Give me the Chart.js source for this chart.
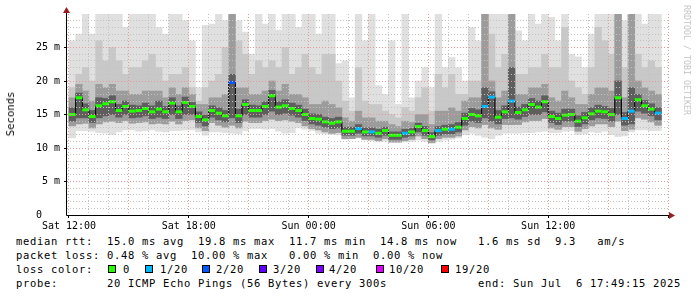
<!DOCTYPE html>
<html>
<head>
<meta charset="utf-8">
<script src="https://cdn.jsdelivr.net/npm/chart.js@4.4.1/dist/chart.umd.min.js"></script>
<style>
  html, body { margin: 0; padding: 0; background: #fff; }
  #graph { position: relative; width: 697px; height: 297px; overflow: hidden; background: #fff; }
  #graph canvas { position: absolute; left: 0; top: 0; }
  .mono { position: absolute; font-family: "DejaVu Sans Mono", monospace; color: #000; white-space: pre; }
  .legend { font-size: 10.5px; letter-spacing: 0.68px; line-height: 14px; }
  .swatch { position: absolute; width: 8px; height: 8px; box-sizing: border-box; border: 1px solid #000; }
  #yTitle { font-size: 10.6px; left: 10px; top: 114px; transform: translate(-50%, -50%) rotate(-90deg); }
  #watermark { font-size: 8.3px; color: #c4c4c4; left: 687px; top: 60px; transform: translate(-50%, -50%) rotate(90deg); }
</style>
</head>
<body>
<div id="graph">
  <canvas id="smoke" width="697" height="232"></canvas>
  <div class="mono" id="yTitle">Seconds</div>
  <div class="mono" id="watermark">RRDTOOL / TOBI OETIKER</div>
  <div class="mono legend" style="left:16px;top:234px">median rtt:  15.0 ms avg  19.8 ms max  11.7 ms min  14.8 ms now   1.6 ms sd  9.3   am/s</div>
  <div class="mono legend" style="left:16px;top:248px">packet loss: 0.48 % avg  10.00 % max   0.00 % min  0.00 % now</div>
  <div class="mono legend" style="left:16px;top:262px">loss color:</div>
  <div class="mono legend" style="left:16px;top:276px">probe:       20 ICMP Echo Pings (56 Bytes) every 300s</div>
  <div class="mono legend" style="left:478px;top:276px">end: Sun Jul  6 17:49:15 2025</div>
</div>
<script>
// one smoke column every 20 minutes, first one starts Sat 12:00
const binMinutes = 20;

// median rtt per column (ms)
const median = [
  15.0, 17.5, 15.7, 14.7, 16.3, 16.6, 16.9, 15.6, 16.2, 15.5, 15.6, 15.9, 15.4, 15.8, 15.4,
  16.7, 15.4, 16.8, 16.2, 14.7, 14.2, 15.6, 15.2, 14.8, 19.8, 14.8, 16.5, 15.6, 15.6, 16.2,
  17.8, 16.1, 16.3, 15.9, 15.6, 15.0, 14.4, 14.3, 13.9, 13.7, 13.9, 12.5, 12.5, 12.9, 12.4,
  12.4, 12.2, 12.6, 11.9, 11.9, 12.2, 12.4, 13.2, 12.6, 11.7, 12.6, 12.8, 12.8, 13.1, 14.4,
  15.0, 14.8, 16.2, 17.6, 14.6, 15.4, 17.0, 15.3, 15.7, 16.5, 16.1, 16.9, 14.7, 14.4, 14.9,
  15.0, 14.0, 14.5, 15.1, 15.5, 15.4, 15.0, 17.5, 14.4, 15.5, 17.2, 16.3, 15.8, 15.2
];
// lost pings per column, as index into lossColors
const loss = [
  0, 0, 0, 0, 0, 0, 0, 0, 0, 0, 0, 0, 0, 0, 0,
  0, 0, 0, 0, 0, 0, 0, 0, 0, 2, 0, 0, 0, 0, 0,
  0, 0, 0, 0, 0, 0, 0, 0, 0, 0, 0, 0, 0, 1, 0,
  1, 0, 0, 0, 0, 1, 0, 0, 0, 0, 1, 0, 1, 0, 0,
  0, 0, 1, 1, 0, 0, 1, 0, 0, 0, 0, 0, 0, 0, 0,
  0, 0, 0, 0, 0, 0, 0, 0, 1, 1, 0, 0, 0, 1
];
// smoke: slowest ping
const smokeTop = [
  26, 27, 30, 27, 30, 30, 30, 30, 28, 30, 30, 30, 30, 28, 27,
  30, 30, 29, 26, 19, 28.3, 28.5, 30, 29, 30, 29, 27.3, 24, 30, 28.5,
  30, 27.6, 30, 30, 28, 30, 30, 27, 30, 30, 22.6, 23, 17.5, 30, 26,
  30, 19.3, 18, 26, 16.5, 30, 17.5, 20, 22, 19, 30, 22, 23.5, 22, 20,
  28, 26, 30, 30, 30, 30, 30, 27.5, 26, 30, 28.5, 30, 29.5, 26, 30,
  24, 23.6, 22, 27, 30, 30, 30, 30, 29, 30, 30, 28.5, 30, 30
];
// smoke: top of the pale grey band
const smokeUpper = [
  19, 21, 22, 20, 26, 23, 25, 23, 21, 22, 22, 23, 24, 22, 20,
  21, 21, 22, 19, 17, 19, 20, 21, 25, 30, 26, 24, 21, 23, 22,
  23, 22, 25, 21, 22, 24, 22, 21, 24, 24, 20, 17, 15.5, 22, 17,
  16.5, 16.5, 15.5, 15, 14.5, 16, 15.5, 17.5, 19, 15.5, 21, 19, 21, 18, 18,
  20, 20, 30, 27, 22, 24, 30, 21, 21, 22, 22, 24, 22, 22, 28,
  20, 19, 18, 22, 28, 26, 24, 30, 22, 30, 24, 22, 23, 22
];
// smoke: top of the medium grey band
const smokeCore = [
  17.5, 19.5, 18.5, 17.0, 19.5, 19.0, 19.5, 18.5, 18.5, 18.0, 18.0, 18.5, 18.5, 18.5, 17.5,
  19.0, 18.0, 19.0, 18.0, 16.5, 16.5, 17.5, 17.5, 18.0, 30, 19.0, 19.0, 18.0, 18.0, 18.5,
  20.0, 18.5, 19.5, 18.0, 18.0, 17.5, 16.5, 16.5, 17.0, 16.5, 16.0, 14.5, 14.0, 15.5, 14.5,
  14.5, 14.0, 14.0, 13.5, 13.2, 14.0, 13.8, 15.0, 15.0, 13.5, 15.5, 15.5, 16.0, 15.5, 17.0,
  17.5, 17.5, 30, 20.0, 17.5, 18.5, 30, 18.0, 18.0, 19.0, 19.0, 19.5, 17.5, 17.0, 18.5,
  17.5, 16.5, 16.5, 18.0, 19.0, 19.0, 18.5, 30, 17.5, 30, 20.0, 19.0, 18.5, 18.0
];
// smoke: top of the dark band around the median
const smokeDarkTop = [
  16.0, 18.2, 16.6, 15.6, 17.5, 17.4, 17.8, 16.5, 17.0, 16.4, 16.3, 16.7, 16.3, 17.0, 16.2,
  17.5, 16.3, 17.6, 16.8, 15.4, 14.9, 16.3, 16.0, 15.6, 21, 15.8, 17.2, 16.4, 16.3, 16.9,
  18.6, 16.9, 17.2, 16.7, 16.4, 15.8, 15.1, 15.0, 14.6, 14.4, 14.6, 13.1, 13.1, 13.5, 13.0,
  13.0, 12.8, 13.1, 12.4, 12.4, 12.8, 12.9, 13.7, 13.2, 12.3, 13.2, 13.4, 13.5, 13.8, 15.2,
  15.9, 15.7, 19, 18.4, 15.6, 16.3, 22, 16.1, 16.5, 17.4, 17.0, 17.8, 15.5, 15.2, 15.8,
  15.8, 14.8, 15.3, 16.0, 16.4, 16.2, 15.9, 20, 15.3, 19, 18.0, 17.1, 16.6, 16.0
];
// smoke: bottom of the dark band
const smokeLowDark = [
  14.0, 14.5, 14.5, 13.8, 14.5, 14.8, 15.0, 14.6, 15.0, 14.5, 14.6, 14.8, 14.4, 14.6, 14.4,
  15.0, 14.4, 15.0, 15.0, 13.8, 13.3, 14.6, 14.2, 13.9, 14.5, 13.8, 15.0, 14.6, 14.6, 15.0,
  15.5, 15.0, 15.2, 14.9, 14.6, 14.1, 13.6, 13.4, 13.1, 12.9, 13.0, 11.9, 11.9, 12.2, 11.8,
  11.8, 11.6, 11.9, 11.3, 11.3, 11.6, 11.8, 12.4, 11.9, 11.2, 11.9, 12.1, 12.1, 12.4, 13.4,
  14.0, 13.8, 14.5, 14.0, 13.6, 14.4, 14.5, 14.3, 14.7, 15.0, 15.0, 15.4, 13.8, 13.5, 14.0,
  14.0, 13.2, 13.6, 14.2, 14.5, 14.4, 14.0, 15.0, 13.4, 13.6, 15.5, 15.2, 14.8, 14.2
];
// smoke: bottom of the grey bands
const smokeLowMid = [
  13.3, 13.6, 13.7, 13.0, 13.6, 13.9, 14.0, 13.8, 14.1, 13.7, 13.8, 13.9, 13.6, 13.7, 13.6,
  14.0, 13.6, 14.1, 14.2, 13.0, 12.6, 13.8, 13.4, 13.1, 13.4, 13.0, 14.0, 13.8, 13.8, 14.1,
  14.3, 14.1, 14.2, 14.0, 13.8, 13.3, 12.9, 12.7, 12.4, 12.2, 12.3, 11.4, 11.4, 11.6, 11.3,
  11.3, 11.1, 11.4, 10.9, 10.9, 11.1, 11.3, 11.8, 11.4, 10.8, 11.4, 11.6, 11.6, 11.8, 12.7,
  13.2, 13.0, 13.5, 13.0, 12.8, 13.5, 13.5, 13.5, 13.9, 14.1, 14.1, 14.4, 13.0, 12.8, 13.2,
  13.2, 12.5, 12.9, 13.3, 13.6, 13.6, 13.2, 14.0, 12.6, 12.8, 14.5, 14.3, 13.9, 13.4
];
// smoke: fastest ping
const smokeBottom = [
  11.5, 12.6, 12.6, 12.5, 12.3, 12.2, 12.0, 12.4, 12.7, 12.7, 12.5, 12.6, 12.7, 12.5, 12.4,
  12.6, 12.6, 12.7, 12.7, 12.4, 11.9, 12.4, 12.4, 12.3, 12.2, 12.1, 12.6, 12.9, 12.9, 12.8,
  12.9, 12.5, 12.2, 12.3, 13.0, 12.8, 12.6, 12.2, 12.1, 12.0, 12.0, 11.3, 11.4, 11.5, 11.2,
  11.1, 10.9, 11.0, 10.8, 10.8, 10.9, 11.0, 11.2, 11.0, 10.7, 11.0, 11.2, 11.3, 11.5, 12.0,
  12.2, 11.9, 11.6, 11.4, 11.9, 12.2, 12.2, 12.2, 12.3, 12.3, 12.4, 12.5, 12.3, 12.3, 12.5,
  12.6, 12.0, 12.1, 12.4, 12.3, 12.5, 12.0, 11.7, 11.8, 12.4, 12.7, 12.7, 12.6, 12.6
];

const lossColors = ['#26ff00', '#00b8ff', '#0059ff', '#5e00ff', '#7e00ff', '#dd00ff', '#ff0000'];
const lossLabels = ['0', '1/20', '2/20', '3/20', '4/20', '10/20', '19/20'];

const xTickMinutes = [0, 360, 720, 1080, 1440];
const xTickLabels = ['Sat 12:00', 'Sat 18:00', 'Sun 00:00', 'Sun 06:00', 'Sun 12:00'];
const yTickValues = [0, 5, 10, 15, 20, 25];
const yTickLabels = ['0   ', ' 5 m', '10 m', '15 m', '20 m', '25 m'];

// loss colour legend row
const swatchX = [108, 145, 202, 259, 316, 376, 441];
const labelX = [123, 160, 216, 273, 329, 389, 455];
const graph = document.getElementById('graph');
lossColors.forEach((c, i) => {
  const sw = document.createElement('div');
  sw.className = 'swatch';
  sw.style.left = swatchX[i] + 'px';
  sw.style.top = '265px';
  sw.style.background = c;
  graph.appendChild(sw);
  const lb = document.createElement('div');
  lb.className = 'mono legend';
  lb.style.left = labelX[i] + 'px';
  lb.style.top = '262px';
  lb.textContent = lossLabels[i];
  graph.appendChild(lb);
});

const minutes = median.map((_, i) => i * binMinutes + binMinutes / 2);
function band(lo, hi) {
  return minutes.map((m, i) => ({ x: m, y: [lo[i], hi[i]] }));
}

const MINOR = '#c2c2c2';
const MAJOR = '#e59a9a';
const NONE = 'rgba(0,0,0,0)';

// axis lines and the little red arrows
const axesPlugin = {
  id: 'rrdAxes',
  afterDraw(chart) {
    const { ctx, chartArea: a } = chart;
    const x0 = a.left - 0.5, y0 = a.bottom + 0.5;
    ctx.save();
    ctx.strokeStyle = '#000';
    ctx.lineWidth = 1;
    ctx.beginPath();
    ctx.moveTo(x0, y0); ctx.lineTo(x0, a.top - 3);
    ctx.moveTo(x0, y0); ctx.lineTo(a.right + 2, y0);
    ctx.stroke();
    ctx.fillStyle = '#9b1c1c';
    ctx.beginPath();
    ctx.moveTo(x0 - 3.5, a.top - 1); ctx.lineTo(x0 + 3.5, a.top - 1); ctx.lineTo(x0, a.top - 7);
    ctx.closePath(); ctx.fill();
    ctx.beginPath();
    ctx.moveTo(a.right + 1, y0 - 3.5); ctx.lineTo(a.right + 1, y0 + 3.5); ctx.lineTo(a.right + 7, y0);
    ctx.closePath(); ctx.fill();
    ctx.restore();
  }
};

new Chart(document.getElementById('smoke'), {
  type: 'bar',
  data: {
    datasets: [
      {
        type: 'line',
        label: 'median',
        data: minutes.map((m, i) => ({ x: m, y: median[i] })),
        order: 0,
        borderColor: '#000',
        borderWidth: 1,
        stepped: 'middle',
        fill: false,
        pointStyle: 'line',
        pointRadius: 3.4,
        pointBorderWidth: 3,
        pointBorderColor: loss.map(k => lossColors[k])
      },
      { label: 'dark', data: band(smokeLowDark, smokeDarkTop), backgroundColor: '#5e5e5e', order: 1 },
      { label: 'medium', data: band(smokeLowMid, smokeCore), backgroundColor: '#9c9c9c', order: 2 },
      { label: 'pale', data: band(smokeLowMid, smokeUpper), backgroundColor: '#c8c8c8', order: 3 },
      { label: 'outer', data: band(smokeBottom, smokeTop), backgroundColor: '#e0e0e0', order: 4 }
    ]
  },
  options: {
    responsive: false,
    animation: false,
    devicePixelRatio: 1,
    events: [],
    layout: { autoPadding: false, padding: { left: 0, top: 14, right: 29, bottom: 0 } },
    datasets: { bar: { grouped: false, barPercentage: 1, categoryPercentage: 1, borderWidth: 0 } },
    plugins: { legend: { display: false }, tooltip: { enabled: false } },
    scales: {
      x: {
        type: 'linear',
        min: -6,
        max: 1800,
        offset: false,
        grid: {
          offset: false,
          z: 1,
          lineWidth: 1,
          color: c => (Math.round(c.tick.value) % 180 === 0 ? MAJOR : MINOR),
          drawTicks: true,
          tickLength: 3,
          tickColor: c => (Math.round(c.tick.value) % 360 === 0 ? '#000' : NONE),
          tickBorderDash: []
        },
        border: { display: false, dash: [1, 2] },
        ticks: {
          stepSize: 60,
          includeBounds: false,
          autoSkip: false,
          maxRotation: 0,
          padding: 2,
          color: '#000',
          font: { family: 'DejaVu Sans Mono', size: 10 },
          callback: v => {
            const k = xTickMinutes.indexOf(Math.round(v));
            return k < 0 ? '' : xTickLabels[k];
          }
        },
        afterFit: s => { s.height = 17; }
      },
      y: {
        min: 0,
        max: 30,
        grid: {
          z: 1,
          lineWidth: 1,
          color: c => {
            const v = c.tick.value;
            if (v <= 0 || v >= 30) return NONE;
            return v % 5 === 0 ? MAJOR : MINOR;
          },
          drawTicks: true,
          tickLength: 3,
          tickColor: c => (c.tick.value % 5 === 0 && c.tick.value > 0 && c.tick.value < 30 ? '#000' : NONE),
          tickBorderDash: []
        },
        border: { display: false, dash: [1, 2] },
        ticks: {
          stepSize: 1,
          autoSkip: false,
          padding: 4,
          color: '#000',
          font: { family: 'DejaVu Sans Mono', size: 10 },
          callback: v => {
            const k = yTickValues.indexOf(v);
            return k < 0 ? '' : yTickLabels[k];
          }
        },
        afterFit: s => { s.width = 67; }
      }
    }
  },
  plugins: [axesPlugin]
});
</script>
</body>
</html>
